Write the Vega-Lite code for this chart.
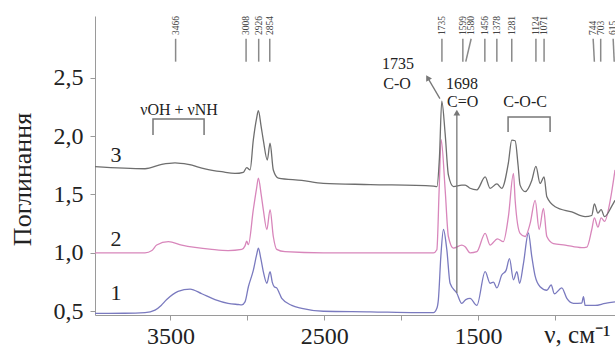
{
  "$schema": "https://vega.github.io/schema/vega-lite/v6.json",
  "width": 520,
  "height": 299,
  "autosize": {"type": "none"},
  "padding": {"left": 95, "top": 16, "right": 0, "bottom": 44},
  "background": "white",
  "config": {"view": {"stroke": null}, "font": "Liberation Serif"},
  "datasets": {
    "spectra": [
      {"curve":"1","wn":3990,"val":0.482},{"curve":"1","wn":3800,"val":0.483},{"curve":"1","wn":3665,"val":0.488},{"curve":"1","wn":3600,"val":0.51},{"curve":"1","wn":3560,"val":0.55},{"curve":"1","wn":3524,"val":0.60},{"curve":"1","wn":3450,"val":0.67},{"curve":"1","wn":3372,"val":0.69},{"curve":"1","wn":3296,"val":0.65},{"curve":"1","wn":3210,"val":0.60},{"curve":"1","wn":3125,"val":0.568},{"curve":"1","wn":3060,"val":0.558},{"curve":"1","wn":3036,"val":0.555},{"curve":"1","wn":3015,"val":0.58},{"curve":"1","wn":2993,"val":0.71},{"curve":"1","wn":2961,"val":0.85},{"curve":"1","wn":2940,"val":0.98},{"curve":"1","wn":2928,"val":1.04},{"curve":"1","wn":2912,"val":0.95},{"curve":"1","wn":2896,"val":0.84},{"curve":"1","wn":2873,"val":0.74},{"curve":"1","wn":2852,"val":0.84},{"curve":"1","wn":2838,"val":0.75},{"curve":"1","wn":2825,"val":0.71},{"curve":"1","wn":2809,"val":0.70},{"curve":"1","wn":2790,"val":0.65},{"curve":"1","wn":2776,"val":0.61},{"curve":"1","wn":2711,"val":0.55},{"curve":"1","wn":2646,"val":0.525},{"curve":"1","wn":2506,"val":0.50},{"curve":"1","wn":2200,"val":0.495},{"curve":"1","wn":1900,"val":0.488},{"curve":"1","wn":1790,"val":0.488},{"curve":"1","wn":1768,"val":0.525},{"curve":"1","wn":1758,"val":0.60},{"curve":"1","wn":1742,"val":0.97},{"curve":"1","wn":1725,"val":1.20},{"curve":"1","wn":1703,"val":1.025},{"curve":"1","wn":1682,"val":0.74},{"curve":"1","wn":1638,"val":0.654},{"curve":"1","wn":1606,"val":0.568},{"curve":"1","wn":1580,"val":0.60},{"curve":"1","wn":1552,"val":0.61},{"curve":"1","wn":1508,"val":0.55},{"curve":"1","wn":1454,"val":0.84},{"curve":"1","wn":1422,"val":0.74},{"curve":"1","wn":1400,"val":0.75},{"curve":"1","wn":1378,"val":0.70},{"curve":"1","wn":1346,"val":0.81},{"curve":"1","wn":1318,"val":0.85},{"curve":"1","wn":1296,"val":0.95},{"curve":"1","wn":1270,"val":0.77},{"curve":"1","wn":1248,"val":0.84},{"curve":"1","wn":1230,"val":0.74},{"curve":"1","wn":1205,"val":0.91},{"curve":"1","wn":1173,"val":1.17},{"curve":"1","wn":1151,"val":0.97},{"curve":"1","wn":1129,"val":0.80},{"curve":"1","wn":1097,"val":0.71},{"curve":"1","wn":1053,"val":0.68},{"curve":"1","wn":1025,"val":0.725},{"curve":"1","wn":1004,"val":0.65},{"curve":"1","wn":956,"val":0.70},{"curve":"1","wn":923,"val":0.61},{"curve":"1","wn":880,"val":0.568},{"curve":"1","wn":826,"val":0.57},{"curve":"1","wn":815,"val":0.625},{"curve":"1","wn":804,"val":0.55},{"curve":"1","wn":739,"val":0.55},{"curve":"1","wn":674,"val":0.568},{"curve":"1","wn":610,"val":0.58},
      {"curve":"2","wn":3990,"val":1.0},{"curve":"2","wn":3665,"val":1.0},{"curve":"2","wn":3620,"val":1.02},{"curve":"2","wn":3589,"val":1.067},{"curve":"2","wn":3513,"val":1.096},{"curve":"2","wn":3426,"val":1.067},{"curve":"2","wn":3340,"val":1.047},{"curve":"2","wn":3231,"val":1.03},{"curve":"2","wn":3125,"val":1.02},{"curve":"2","wn":3036,"val":1.03},{"curve":"2","wn":3015,"val":1.06},{"curve":"2","wn":3004,"val":1.10},{"curve":"2","wn":2993,"val":1.07},{"curve":"2","wn":2961,"val":1.37},{"curve":"2","wn":2940,"val":1.55},{"curve":"2","wn":2928,"val":1.64},{"curve":"2","wn":2910,"val":1.50},{"curve":"2","wn":2896,"val":1.37},{"curve":"2","wn":2873,"val":1.20},{"curve":"2","wn":2852,"val":1.37},{"curve":"2","wn":2831,"val":1.14},{"curve":"2","wn":2809,"val":1.03},{"curve":"2","wn":2755,"val":1.01},{"curve":"2","wn":2506,"val":1.0},{"curve":"2","wn":1790,"val":1.0},{"curve":"2","wn":1768,"val":1.027},{"curve":"2","wn":1753,"val":1.54},{"curve":"2","wn":1740,"val":1.97},{"curve":"2","wn":1714,"val":1.54},{"curve":"2","wn":1693,"val":1.14},{"curve":"2","wn":1660,"val":1.04},{"curve":"2","wn":1606,"val":1.067},{"curve":"2","wn":1584,"val":1.053},{"curve":"2","wn":1552,"val":1.0},{"curve":"2","wn":1508,"val":1.01},{"curve":"2","wn":1454,"val":1.167},{"curve":"2","wn":1422,"val":1.067},{"curve":"2","wn":1374,"val":1.12},{"curve":"2","wn":1336,"val":1.096},{"curve":"2","wn":1303,"val":1.31},{"curve":"2","wn":1270,"val":1.68},{"curve":"2","wn":1259,"val":1.45},{"curve":"2","wn":1227,"val":1.167},{"curve":"2","wn":1194,"val":1.14},{"curve":"2","wn":1162,"val":1.25},{"curve":"2","wn":1129,"val":1.45},{"curve":"2","wn":1103,"val":1.20},{"curve":"2","wn":1075,"val":1.38},{"curve":"2","wn":1053,"val":1.14},{"curve":"2","wn":1010,"val":1.08},{"curve":"2","wn":934,"val":1.067},{"curve":"2","wn":826,"val":1.045},{"curve":"2","wn":793,"val":1.05},{"curve":"2","wn":761,"val":1.20},{"curve":"2","wn":744,"val":1.30},{"curve":"2","wn":721,"val":1.22},{"curve":"2","wn":700,"val":1.30},{"curve":"2","wn":678,"val":1.27},{"curve":"2","wn":641,"val":1.45},{"curve":"2","wn":610,"val":1.71},
      {"curve":"3","wn":3990,"val":1.738},{"curve":"3","wn":3665,"val":1.72},{"curve":"3","wn":3556,"val":1.757},{"curve":"3","wn":3470,"val":1.77},{"curve":"3","wn":3385,"val":1.757},{"curve":"3","wn":3275,"val":1.72},{"curve":"3","wn":3166,"val":1.695},{"curve":"3","wn":3080,"val":1.68},{"curve":"3","wn":3026,"val":1.69},{"curve":"3","wn":3004,"val":1.73},{"curve":"3","wn":2982,"val":1.71},{"curve":"3","wn":2961,"val":1.966},{"curve":"3","wn":2940,"val":2.15},{"curve":"3","wn":2928,"val":2.217},{"curve":"3","wn":2910,"val":2.08},{"curve":"3","wn":2896,"val":1.966},{"curve":"3","wn":2870,"val":1.795},{"curve":"3","wn":2852,"val":1.94},{"curve":"3","wn":2831,"val":1.71},{"curve":"3","wn":2798,"val":1.64},{"curve":"3","wn":2646,"val":1.62},{"curve":"3","wn":2506,"val":1.595},{"curve":"3","wn":2200,"val":1.585},{"curve":"3","wn":1790,"val":1.572},{"curve":"3","wn":1768,"val":1.567},{"curve":"3","wn":1751,"val":1.82},{"curve":"3","wn":1736,"val":2.30},{"curve":"3","wn":1714,"val":2.02},{"curve":"3","wn":1693,"val":1.667},{"curve":"3","wn":1660,"val":1.567},{"curve":"3","wn":1606,"val":1.58},{"curve":"3","wn":1584,"val":1.58},{"curve":"3","wn":1552,"val":1.553},{"curve":"3","wn":1508,"val":1.54},{"curve":"3","wn":1454,"val":1.65},{"curve":"3","wn":1422,"val":1.553},{"curve":"3","wn":1378,"val":1.59},{"curve":"3","wn":1346,"val":1.553},{"curve":"3","wn":1303,"val":1.77},{"curve":"3","wn":1281,"val":1.966},{"curve":"3","wn":1259,"val":1.96},{"curve":"3","wn":1240,"val":1.75},{"curve":"3","wn":1227,"val":1.58},{"curve":"3","wn":1194,"val":1.524},{"curve":"3","wn":1151,"val":1.62},{"curve":"3","wn":1124,"val":1.74},{"curve":"3","wn":1097,"val":1.595},{"curve":"3","wn":1071,"val":1.65},{"curve":"3","wn":1053,"val":1.48},{"curve":"3","wn":999,"val":1.395},{"curve":"3","wn":891,"val":1.35},{"curve":"3","wn":804,"val":1.31},{"curve":"3","wn":761,"val":1.32},{"curve":"3","wn":744,"val":1.42},{"curve":"3","wn":721,"val":1.34},{"curve":"3","wn":700,"val":1.37},{"curve":"3","wn":678,"val":1.31},{"curve":"3","wn":631,"val":1.40},{"curve":"3","wn":610,"val":1.45}
    ],
    "peaks": [
      {"label":"3466","wn":3466,"wn2":3466},{"label":"3008","wn":3008,"wn2":3008},{"label":"2926","wn":2926,"wn2":2926},{"label":"2854","wn":2854,"wn2":2854},
      {"label":"1735","wn":1735,"wn2":1735},{"label":"1599","wn":1599,"wn2":1599},{"label":"1580","wn":1545,"wn2":1580},{"label":"1456","wn":1456,"wn2":1456},{"label":"1378","wn":1378,"wn2":1378},{"label":"1281","wn":1281,"wn2":1281},{"label":"1124","wn":1124,"wn2":1124},{"label":"1071","wn":1071,"wn2":1071},{"label":"744","wn":752,"wn2":744},{"label":"703","wn":703,"wn2":703},{"label":"615","wn":622,"wn2":615}
    ],
    "notes": [
      {"text":"1735","wn":2020,"val":2.617},{"text":"C-O","wn":2026,"val":2.45},{"text":"1698","wn":1604,"val":2.45},{"text":"C=O","wn":1600,"val":2.29},{"text":"C-O-C","wn":1194,"val":2.29},{"text":"νOH + νNH","wn":3444,"val":2.223}
    ],
    "curveLabels": [
      {"text":"3","wn":3854,"val":1.84},{"text":"2","wn":3854,"val":1.12},{"text":"1","wn":3854,"val":0.66}
    ],
    "brackets": [
      {"b":"a","o":1,"wn":3613,"val":2.009},{"b":"a","o":2,"wn":3613,"val":2.146},{"b":"a","o":3,"wn":3281,"val":2.146},{"b":"a","o":4,"wn":3281,"val":2.009},
      {"b":"b","o":1,"wn":1305,"val":2.035},{"b":"b","o":2,"wn":1305,"val":2.163},{"b":"b","o":3,"wn":1032,"val":2.163},{"b":"b","o":4,"wn":1032,"val":2.035}
    ],
    "arrows": [
      {"a":"CO","wn":1748,"val":2.32,"wn2":1828,"val2":2.5,"dir":330},
      {"a":"C=O","wn":1638,"val":0.656,"wn2":1638,"val2":2.2,"dir":0}
    ]
  },
  "layer": [
    {
      "data": {"name": "spectra"},
      "mark": {"type": "line", "strokeWidth": 1.3, "interpolate": "monotone"},
      "encoding": {
        "x": {"field": "wn", "type": "quantitative",
              "scale": {"domain": [610, 3990], "reverse": true, "nice": false, "zero": false},
              "axis": {"values": [3500, 3000, 2500, 2000, 1500, 1000],
                       "labelExpr": "datum.value % 1000 == 500 ? datum.label : ''",
                       "format": "d", "grid": false, "domainColor": "#9a9a9a", "tickColor": "#9a9a9a",
                       "tickSize": 5, "labelPadding": 4, "labelFontSize": 24, "labelFont": "Liberation Serif",
                       "labelColor": "#222", "labelFlush": false,
                       "title": "ν, см⁻¹", "titleFont": "Liberation Serif", "titleFontSize": 25,
                       "titleFontWeight": "normal", "titleColor": "#222",
                       "titleX": 515, "titleY": 27, "titleAlign": "right", "titleBaseline": "alphabetic", "titleAnchor": null}},
        "y": {"field": "val", "type": "quantitative",
              "scale": {"domain": [0.468, 3.028], "nice": false, "zero": false},
              "axis": {"values": [0.5, 1, 1.5, 2, 2.5],
                       "labelExpr": "replace(format(datum.value, '.1f'), '.', ',')",
                       "grid": false, "domainColor": "#9a9a9a", "tickColor": "#9a9a9a",
                       "tickSize": 5, "labelPadding": 7, "labelFontSize": 24, "labelFont": "Liberation Serif",
                       "labelColor": "#222", "labelFlush": false,
                       "title": "Поглинання", "titleFont": "Liberation Serif", "titleFontSize": 26,
                       "titleFontWeight": "normal", "titleColor": "#222",
                       "titleX": -65, "titleY": 163, "titleAngle": 270, "titleAlign": "center", "titleBaseline": "alphabetic"}},
        "color": {"field": "curve", "type": "nominal",
                  "scale": {"domain": ["1", "2", "3"], "range": ["#7a7abf", "#d886bb", "#6e6e6e"]},
                  "legend": null}
      }
    },
    {
      "data": {"name": "peaks"},
      "mark": {"type": "rule", "color": "#8a8a8a", "strokeWidth": 1.5},
      "encoding": {
        "x": {"field": "wn", "type": "quantitative"},
        "x2": {"field": "wn2"},
        "y": {"datum": 2.833},
        "y2": {"datum": 2.637}
      }
    },
    {
      "data": {"name": "peaks"},
      "mark": {"type": "text", "angle": 270, "align": "left", "baseline": "middle", "fontSize": 9.5, "color": "#444", "font": "Liberation Serif"},
      "encoding": {
        "x": {"field": "wn", "type": "quantitative"},
        "y": {"datum": 2.865},
        "text": {"field": "label"}
      }
    },
    {
      "data": {"name": "notes"},
      "mark": {"type": "text", "align": "center", "baseline": "middle", "fontSize": 16, "color": "#222", "font": "Liberation Serif"},
      "encoding": {
        "x": {"field": "wn", "type": "quantitative"},
        "y": {"field": "val", "type": "quantitative"},
        "text": {"field": "text"}
      }
    },
    {
      "data": {"name": "curveLabels"},
      "mark": {"type": "text", "align": "center", "baseline": "middle", "fontSize": 22, "color": "#222", "font": "Liberation Serif"},
      "encoding": {
        "x": {"field": "wn", "type": "quantitative"},
        "y": {"field": "val", "type": "quantitative"},
        "text": {"field": "text"}
      }
    },
    {
      "data": {"name": "brackets"},
      "mark": {"type": "line", "color": "#777", "strokeWidth": 1.5},
      "encoding": {
        "x": {"field": "wn", "type": "quantitative"},
        "y": {"field": "val", "type": "quantitative"},
        "detail": {"field": "b"},
        "order": {"field": "o"}
      }
    },
    {
      "data": {"name": "arrows"},
      "mark": {"type": "rule", "color": "#777", "strokeWidth": 1.3},
      "encoding": {
        "x": {"field": "wn", "type": "quantitative"},
        "x2": {"field": "wn2"},
        "y": {"field": "val", "type": "quantitative"},
        "y2": {"field": "val2"}
      }
    },
    {
      "data": {"name": "arrows"},
      "mark": {"type": "point", "shape": "triangle-up", "filled": true, "color": "#777", "size": 45, "opacity": 1},
      "encoding": {
        "x": {"field": "wn2", "type": "quantitative"},
        "y": {"field": "val2", "type": "quantitative"},
        "angle": {"field": "dir", "type": "quantitative", "scale": null}
      }
    }
  ]
}
